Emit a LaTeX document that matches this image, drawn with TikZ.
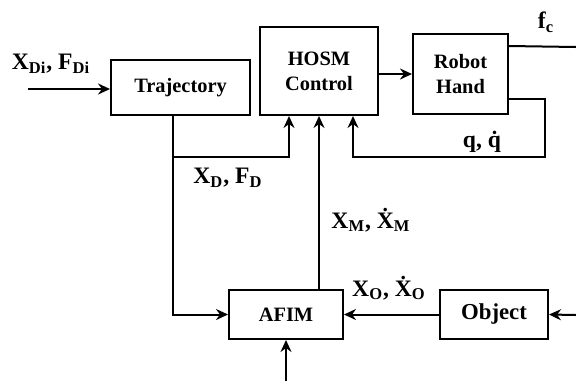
\documentclass[tikz,border=0pt]{standalone}
\usepackage{fontspec}
\setmainfont{Liberation Serif}
\usepackage{tikz}
\usetikzlibrary{shapes,arrows,arrows.meta,positioning,calc}

\begin{document}
\begin{tikzpicture}[
    x=0.5pt, y=-0.5pt,
    block/.style={draw, line width=1pt, align=center, inner sep=0pt, font=\fontsize{10.2}{12.5}\selectfont\bfseries},
    lbl/.style={inner sep=0pt, font=\fontsize{11.8}{13}\selectfont\bfseries},
    arrow/.style={line width=1pt,->,>={Stealth[length=6pt,width=5.5pt,inset=2pt]}},
    line/.style={line width=1pt}
]
    \useasboundingbox (0,0) rectangle (576,381);

    \node (traj) [block, minimum width=69.5pt, minimum height=27.5pt] at (180.5,87.5) {Trajectory};
    \node (hosm) [block, minimum width=59pt, minimum height=44pt] at (319,71) {HOSM\\Control};
    \node (hand) [block, minimum width=47.5pt, minimum height=40pt] at (460.5,74) {Robot\\Hand};
    \node (afim) [block, minimum width=57pt, minimum height=24.5pt] at (286,314.5) {AFIM};
    \node (obj) [block, minimum width=54pt, minimum height=24.5pt, font=\fontsize{11.4}{13}\selectfont\bfseries] at (494,314.5) {Object};

    \coordinate (in) at (28,89);
    \coordinate (split) at (173,157);
    \coordinate (qcorner) at (545,157);
    \coordinate (fcend) at (576,47);
    \coordinate (objin) at (576,315);
    \coordinate (afimin) at (286,381);

    \draw [arrow] (in) -- (in -| traj.west);
    \draw [line] (traj.south -| split) -- (split);
    \draw [arrow] (split) -| ($(hosm.south)+(-30,0)$);
    \draw [arrow] (split) |- (afim.west);
    \draw [arrow] (afim.north -| hosm.south) -- (hosm.south);
    \draw [arrow] (hosm.east |- hand.west) -- (hand.west);
    \draw [line] ($(hand.north east)+(0,13)$) -- (fcend);
    \draw [arrow] ($(hand.south east)+(0,-16)$) -| (qcorner) -| ($(hosm.south)+(34,0)$);
    \draw [arrow] (obj.west) -- (afim.east);
    \draw [arrow] (objin) -- (obj.east);
    \draw [arrow] (afimin) -- (afim.south);

    \node (xdi) [lbl] at (51,64) {X\textsubscript{Di}, F\textsubscript{Di}};
    \node (xd) [lbl] at (228,178) {X\textsubscript{D}, F\textsubscript{D}};
    \node (xm) [lbl] at (371,220) {X\textsubscript{M}, \.{X}\textsubscript{M}};
    \node (xo) [lbl] at (389,288) {X\textsubscript{O}, \.{X}\textsubscript{O}};
    \node (q) [lbl] at (482,142) {q, \.{q}};
    \node (fc) [lbl] at (546,22) {f\textsubscript{c}};
\end{tikzpicture}
\end{document}
